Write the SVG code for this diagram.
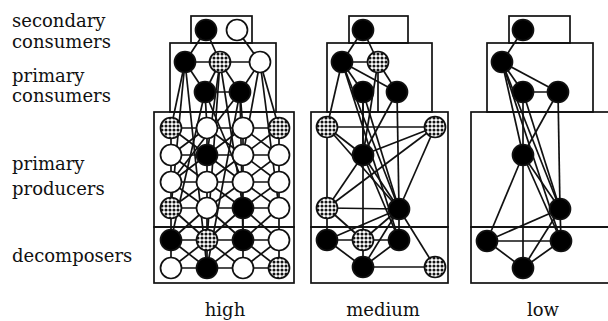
<svg xmlns="http://www.w3.org/2000/svg" width="608" height="321" viewBox="0 0 608 321">
<defs>
<pattern id="dots" patternUnits="userSpaceOnUse" width="4" height="4">
<rect width="4" height="4" fill="#fff"/>
<circle cx="2" cy="2" r="0.7" fill="#000"/>
</pattern>
</defs>
<style>
.lbl{font-size:18px;fill:#111}
.box{fill:none;stroke:#111;stroke-width:1.7}
#connectors line{stroke:#111;stroke-width:1.7}
circle{stroke:#111;stroke-width:1.7}
.b{fill:#000}
.w{fill:#fff}
.d{fill:url(#dots)}
</style>
<rect width="608" height="321" fill="#fff"/>

<g id="labels" font-family="DejaVu Serif, Liberation Serif, serif">
<text class="lbl" x="12" y="27">secondary</text>
<text class="lbl" x="12" y="48">consumers</text>
<text class="lbl" x="12" y="82">primary</text>
<text class="lbl" x="12" y="102">consumers</text>
<text class="lbl" x="12" y="170">primary</text>
<text class="lbl" x="12" y="195">producers</text>
<text class="lbl" x="12" y="262">decomposers</text>
<text class="lbl" x="225" y="316" text-anchor="middle">high</text>
<text class="lbl" x="383" y="316" text-anchor="middle">medium</text>
<text class="lbl" x="543" y="316" text-anchor="middle">low</text>
</g>

<g id="boxes">
<rect class="box" x="191" y="16" width="61" height="27"/>
<rect class="box" x="170" y="43" width="106" height="69"/>
<rect class="box" x="154" y="112" width="140" height="115"/>
<rect class="box" x="154" y="227" width="140" height="56"/>
<rect class="box" x="349" y="16" width="59" height="27"/>
<rect class="box" x="327" y="43" width="105" height="69"/>
<rect class="box" x="311" y="112" width="137" height="115"/>
<rect class="box" x="311" y="227" width="137" height="56"/>
<rect class="box" x="509" y="16" width="61" height="27"/>
<rect class="box" x="487" y="43" width="106" height="69"/>
<rect class="box" x="471" y="112" width="145" height="115"/>
<rect class="box" x="471" y="227" width="145" height="56"/>
</g>

<g id="connectors">
<line x1="206" y1="30" x2="185" y2="62"/>
<line x1="206" y1="30" x2="220" y2="62"/>
<line x1="237" y1="30" x2="260" y2="62"/>
<line x1="185" y1="62" x2="220" y2="62"/>
<line x1="220" y1="62" x2="260" y2="62"/>
<line x1="185" y1="62" x2="205" y2="92"/>
<line x1="220" y1="62" x2="205" y2="92"/>
<line x1="220" y1="62" x2="240" y2="92"/>
<line x1="260" y1="62" x2="240" y2="92"/>
<line x1="205" y1="92" x2="240" y2="92"/>
<line x1="185" y1="62" x2="171" y2="128"/>
<line x1="185" y1="62" x2="171" y2="208"/>
<line x1="185" y1="62" x2="207" y2="268"/>
<line x1="220" y1="62" x2="207" y2="155"/>
<line x1="220" y1="62" x2="207" y2="240"/>
<line x1="220" y1="62" x2="243" y2="208"/>
<line x1="260" y1="62" x2="279" y2="128"/>
<line x1="260" y1="62" x2="243" y2="155"/>
<line x1="260" y1="62" x2="279" y2="208"/>
<line x1="205" y1="92" x2="207" y2="128"/>
<line x1="205" y1="92" x2="171" y2="240"/>
<line x1="205" y1="92" x2="243" y2="182"/>
<line x1="240" y1="92" x2="243" y2="128"/>
<line x1="240" y1="92" x2="207" y2="268"/>
<line x1="240" y1="92" x2="243" y2="240"/>
<line x1="240" y1="92" x2="171" y2="182"/>
<line x1="171" y1="128" x2="279" y2="128"/>
<line x1="171" y1="155" x2="279" y2="155"/>
<line x1="171" y1="182" x2="279" y2="182"/>
<line x1="171" y1="208" x2="279" y2="208"/>
<line x1="171" y1="240" x2="279" y2="240"/>
<line x1="171" y1="268" x2="279" y2="268"/>
<line x1="171" y1="128" x2="171" y2="268"/>
<line x1="207" y1="128" x2="207" y2="268"/>
<line x1="243" y1="128" x2="243" y2="268"/>
<line x1="279" y1="128" x2="279" y2="268"/>
<line x1="171" y1="128" x2="207" y2="155"/><line x1="207" y1="128" x2="171" y2="155"/>
<line x1="207" y1="128" x2="243" y2="155"/><line x1="243" y1="128" x2="207" y2="155"/>
<line x1="243" y1="128" x2="279" y2="155"/><line x1="279" y1="128" x2="243" y2="155"/>
<line x1="171" y1="155" x2="207" y2="182"/><line x1="207" y1="155" x2="171" y2="182"/>
<line x1="207" y1="155" x2="243" y2="182"/><line x1="243" y1="155" x2="207" y2="182"/>
<line x1="243" y1="155" x2="279" y2="182"/><line x1="279" y1="155" x2="243" y2="182"/>
<line x1="171" y1="182" x2="207" y2="208"/><line x1="207" y1="182" x2="171" y2="208"/>
<line x1="207" y1="182" x2="243" y2="208"/><line x1="243" y1="182" x2="207" y2="208"/>
<line x1="243" y1="182" x2="279" y2="208"/><line x1="279" y1="182" x2="243" y2="208"/>
<line x1="171" y1="208" x2="207" y2="240"/><line x1="207" y1="208" x2="171" y2="240"/>
<line x1="207" y1="208" x2="243" y2="240"/><line x1="243" y1="208" x2="207" y2="240"/>
<line x1="243" y1="208" x2="279" y2="240"/><line x1="279" y1="208" x2="243" y2="240"/>
<line x1="171" y1="240" x2="207" y2="268"/><line x1="207" y1="240" x2="171" y2="268"/>
<line x1="207" y1="240" x2="243" y2="268"/><line x1="243" y1="240" x2="207" y2="268"/>
<line x1="243" y1="240" x2="279" y2="268"/><line x1="279" y1="240" x2="243" y2="268"/>

<line x1="363" y1="30" x2="342" y2="62"/>
<line x1="363" y1="30" x2="378" y2="62"/>
<line x1="342" y1="62" x2="378" y2="62"/>
<line x1="342" y1="62" x2="363" y2="92"/>
<line x1="342" y1="62" x2="397" y2="92"/>
<line x1="378" y1="62" x2="397" y2="92"/>
<line x1="378" y1="62" x2="378" y2="112"/>
<line x1="378" y1="62" x2="363" y2="155"/>
<line x1="342" y1="62" x2="327" y2="127"/>
<line x1="342" y1="62" x2="399" y2="209"/>
<line x1="342" y1="62" x2="399" y2="240"/>
<line x1="363" y1="92" x2="363" y2="155"/>
<line x1="363" y1="92" x2="399" y2="209"/>
<line x1="363" y1="92" x2="363" y2="240"/>
<line x1="397" y1="92" x2="399" y2="209"/>
<line x1="397" y1="92" x2="363" y2="155"/>
<line x1="327" y1="127" x2="435" y2="127"/>
<line x1="327" y1="127" x2="363" y2="155"/>
<line x1="327" y1="127" x2="327" y2="208"/>
<line x1="327" y1="127" x2="399" y2="209"/>
<line x1="435" y1="127" x2="363" y2="155"/>
<line x1="435" y1="127" x2="327" y2="208"/>
<line x1="435" y1="127" x2="399" y2="209"/>
<line x1="363" y1="155" x2="327" y2="208"/>
<line x1="363" y1="155" x2="399" y2="209"/>
<line x1="363" y1="155" x2="399" y2="240"/>
<line x1="327" y1="208" x2="399" y2="209"/>
<line x1="327" y1="208" x2="327" y2="240"/>
<line x1="327" y1="208" x2="363" y2="240"/>
<line x1="399" y1="209" x2="327" y2="240"/>
<line x1="399" y1="209" x2="363" y2="240"/>
<line x1="399" y1="209" x2="399" y2="240"/>
<line x1="399" y1="209" x2="363" y2="267"/>
<line x1="399" y1="209" x2="435" y2="267"/>
<line x1="327" y1="240" x2="399" y2="240"/>
<line x1="327" y1="240" x2="363" y2="267"/>
<line x1="363" y1="240" x2="363" y2="267"/>
<line x1="399" y1="240" x2="363" y2="267"/>
<line x1="363" y1="267" x2="435" y2="267"/>

<line x1="523" y1="30" x2="502" y2="62"/>
<line x1="502" y1="62" x2="523" y2="92"/>
<line x1="502" y1="62" x2="558" y2="92"/>
<line x1="523" y1="92" x2="558" y2="92"/>
<line x1="502" y1="62" x2="523" y2="155"/>
<line x1="502" y1="62" x2="560" y2="209"/>
<line x1="502" y1="62" x2="561" y2="241"/>
<line x1="523" y1="92" x2="523" y2="268"/>
<line x1="523" y1="92" x2="560" y2="209"/>
<line x1="558" y1="92" x2="523" y2="155"/>
<line x1="558" y1="92" x2="560" y2="209"/>
<line x1="523" y1="155" x2="487" y2="241"/>
<line x1="523" y1="155" x2="560" y2="209"/>
<line x1="523" y1="155" x2="561" y2="241"/>
<line x1="560" y1="209" x2="487" y2="241"/>
<line x1="560" y1="209" x2="561" y2="241"/>
<line x1="560" y1="209" x2="523" y2="268"/>
<line x1="487" y1="241" x2="561" y2="241"/>
<line x1="487" y1="241" x2="523" y2="268"/>
<line x1="561" y1="241" x2="523" y2="268"/>
</g>

<g id="h_s1"><circle class="b" cx="206" cy="30" r="10.5"/></g>
<g id="h_s2"><circle class="w" cx="237" cy="30" r="10.5"/></g>
<g id="h_p1"><circle class="b" cx="185" cy="62" r="10.5"/></g>
<g id="h_p2"><circle class="d" cx="220" cy="62" r="10.5"/></g>
<g id="h_p3"><circle class="w" cx="260" cy="62" r="10.5"/></g>
<g id="h_p4"><circle class="b" cx="205" cy="92" r="10.5"/></g>
<g id="h_p5"><circle class="b" cx="240" cy="92" r="10.5"/></g>
<g id="h_r1c1"><circle class="d" cx="171" cy="128" r="10.5"/></g>
<g id="h_r1c2"><circle class="w" cx="207" cy="128" r="10.5"/></g>
<g id="h_r1c3"><circle class="w" cx="243" cy="128" r="10.5"/></g>
<g id="h_r1c4"><circle class="d" cx="279" cy="128" r="10.5"/></g>
<g id="h_r2c1"><circle class="w" cx="171" cy="155" r="10.5"/></g>
<g id="h_r2c2"><circle class="b" cx="207" cy="155" r="10.5"/></g>
<g id="h_r2c3"><circle class="w" cx="243" cy="155" r="10.5"/></g>
<g id="h_r2c4"><circle class="w" cx="279" cy="155" r="10.5"/></g>
<g id="h_r3c1"><circle class="w" cx="171" cy="182" r="10.5"/></g>
<g id="h_r3c2"><circle class="w" cx="207" cy="182" r="10.5"/></g>
<g id="h_r3c3"><circle class="w" cx="243" cy="182" r="10.5"/></g>
<g id="h_r3c4"><circle class="w" cx="279" cy="182" r="10.5"/></g>
<g id="h_r4c1"><circle class="d" cx="171" cy="208" r="10.5"/></g>
<g id="h_r4c2"><circle class="w" cx="207" cy="208" r="10.5"/></g>
<g id="h_r4c3"><circle class="b" cx="243" cy="208" r="10.5"/></g>
<g id="h_r4c4"><circle class="w" cx="279" cy="208" r="10.5"/></g>
<g id="h_r5c1"><circle class="b" cx="171" cy="240" r="10.5"/></g>
<g id="h_r5c2"><circle class="d" cx="207" cy="240" r="10.5"/></g>
<g id="h_r5c3"><circle class="b" cx="243" cy="240" r="10.5"/></g>
<g id="h_r5c4"><circle class="w" cx="279" cy="240" r="10.5"/></g>
<g id="h_r6c1"><circle class="w" cx="171" cy="268" r="10.5"/></g>
<g id="h_r6c2"><circle class="b" cx="207" cy="268" r="10.5"/></g>
<g id="h_r6c3"><circle class="w" cx="243" cy="268" r="10.5"/></g>
<g id="h_r6c4"><circle class="d" cx="279" cy="268" r="10.5"/></g>

<g id="m_s1"><circle class="b" cx="363" cy="30" r="10.5"/></g>
<g id="m_p1"><circle class="b" cx="342" cy="62" r="10.5"/></g>
<g id="m_p2"><circle class="d" cx="378" cy="62" r="10.5"/></g>
<g id="m_p3"><circle class="b" cx="363" cy="92" r="10.5"/></g>
<g id="m_p4"><circle class="b" cx="397" cy="92" r="10.5"/></g>
<g id="m_pr1"><circle class="d" cx="327" cy="127" r="10.5"/></g>
<g id="m_pr2"><circle class="d" cx="435" cy="127" r="10.5"/></g>
<g id="m_pr3"><circle class="b" cx="363" cy="155" r="10.5"/></g>
<g id="m_pr4"><circle class="d" cx="327" cy="208" r="10.5"/></g>
<g id="m_pr5"><circle class="b" cx="399" cy="209" r="10.5"/></g>
<g id="m_d1"><circle class="b" cx="327" cy="240" r="10.5"/></g>
<g id="m_d2"><circle class="d" cx="363" cy="240" r="10.5"/></g>
<g id="m_d3"><circle class="b" cx="399" cy="240" r="10.5"/></g>
<g id="m_d4"><circle class="b" cx="363" cy="267" r="10.5"/></g>
<g id="m_d5"><circle class="d" cx="435" cy="267" r="10.5"/></g>

<g id="l_s1"><circle class="b" cx="523" cy="30" r="10.5"/></g>
<g id="l_p1"><circle class="b" cx="502" cy="62" r="10.5"/></g>
<g id="l_p2"><circle class="b" cx="523" cy="92" r="10.5"/></g>
<g id="l_p3"><circle class="b" cx="558" cy="92" r="10.5"/></g>
<g id="l_pr1"><circle class="b" cx="523" cy="155" r="10.5"/></g>
<g id="l_pr2"><circle class="b" cx="560" cy="209" r="10.5"/></g>
<g id="l_d1"><circle class="b" cx="487" cy="241" r="10.5"/></g>
<g id="l_d2"><circle class="b" cx="561" cy="241" r="10.5"/></g>
<g id="l_d3"><circle class="b" cx="523" cy="268" r="10.5"/></g>
</svg>
